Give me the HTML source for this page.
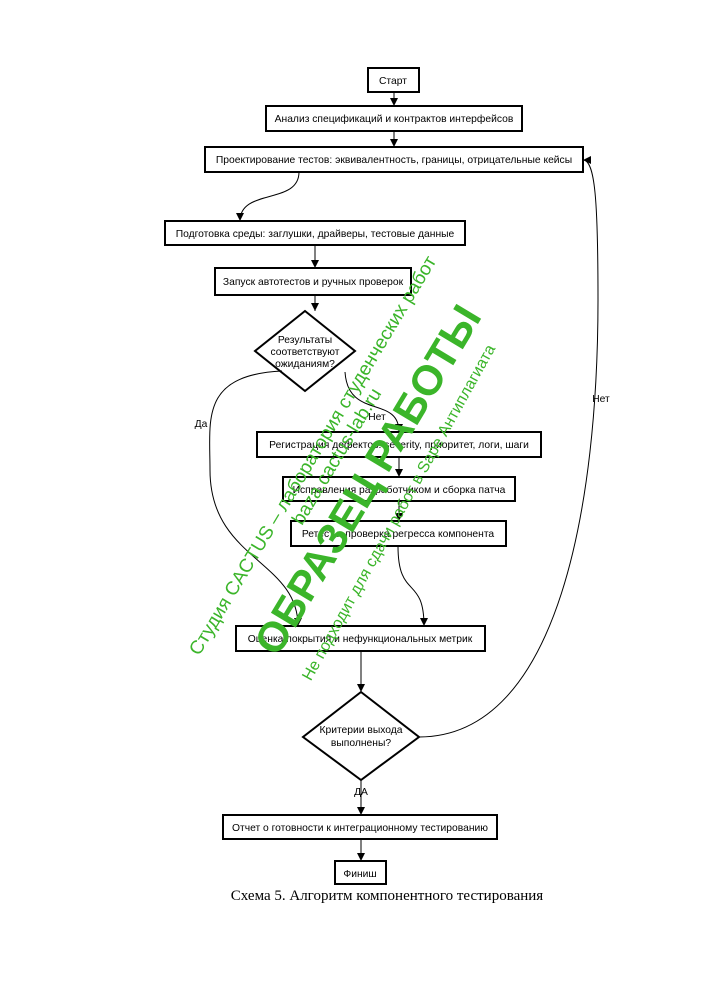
<!DOCTYPE html>
<html><head><meta charset="utf-8"><style>
html,body{margin:0;padding:0;background:#fff;}
svg{display:block;}
</style></head><body>
<svg width="707" height="1000" viewBox="0 0 707 1000" xmlns="http://www.w3.org/2000/svg">
<defs>
<marker id="a" viewBox="0 0 10 10" refX="10" refY="5" markerWidth="8" markerHeight="8" orient="auto" markerUnits="userSpaceOnUse">
<path d="M0,0 L10,5 L0,10 Z" fill="#000"/></marker>
</defs>
<g fill="#fff" stroke="#000" stroke-width="2">
<rect x="368" y="68" width="51" height="24"/>
<rect x="266" y="106" width="256" height="25"/>
<rect x="205" y="147" width="378" height="25"/>
<rect x="165" y="221" width="300" height="24"/>
<rect x="215" y="268" width="196" height="27"/>
<polygon points="305,311 355,351 305,391 255,351"/>
<rect x="257" y="432" width="284" height="25"/>
<rect x="283" y="477" width="232" height="24"/>
<rect x="291" y="521" width="215" height="25"/>
<rect x="236" y="626" width="249" height="25"/>
<polygon points="361,692 419,737 361,780 303,737"/>
<rect x="223" y="815" width="274" height="24"/>
<rect x="335" y="861" width="51" height="23"/>
</g>
<g fill="none" stroke="#000" stroke-width="1" marker-end="url(#a)">
<path d="M394,92 L394,106"/>
<path d="M394,131 L394,147"/>
<path d="M299,172 C299,205 240,188 240,221"/>
<path d="M315,245 L315,268"/>
<path d="M315,295 L315,311"/>
<path d="M345,372 C348,420 399,395 399,432"/>
<path d="M282,371 C200,375 210,420 210,470 C210,560 298,560 298,626"/>
<path d="M399,457 L399,477"/>
<path d="M399,501 L399,521"/>
<path d="M398,546 C398,600 424,575 424,626"/>
<path d="M361,651 L361,692"/>
<path d="M419,737 C560,737 598,500 598,300 C598,200 595,160 583,160"/>
<path d="M361,780 L361,815"/>
<path d="M361,839 L361,861"/>
</g>
<g font-family="Liberation Sans, sans-serif" font-size="10.3" fill="#000" text-anchor="middle">
<text x="393" y="84">Старт</text>
<text x="394" y="122">Анализ спецификаций и контрактов интерфейсов</text>
<text x="394" y="163">Проектирование тестов: эквивалентность, границы, отрицательные кейсы</text>
<text x="315" y="237">Подготовка среды: заглушки, драйверы, тестовые данные</text>
<text x="313" y="285">Запуск автотестов и ручных проверок</text>
<text x="305" y="343">Результаты</text>
<text x="305" y="355">соответствуют</text>
<text x="305" y="367">ожиданиям?</text>
<text x="377" y="420">Нет</text>
<text x="201" y="427">Да</text>
<text x="399" y="448">Регистрация дефектов: severity, приоритет, логи, шаги</text>
<text x="399" y="493">Исправления разработчиком и сборка патча</text>
<text x="398" y="537">Ретест и проверка регресса компонента</text>
<text x="360" y="642">Оценка покрытия и нефункциональных метрик</text>
<text x="361" y="733">Критерии выхода</text>
<text x="361" y="746">выполнены?</text>
<text x="361" y="795">ДА</text>
<text x="601" y="402">Нет</text>
<text x="360" y="831">Отчет о готовности к интеграционному тестированию</text>
<text x="360" y="877">Финиш</text>
</g>
<text x="387" y="900" font-family="Liberation Serif, serif" font-size="15" text-anchor="middle">Схема 5. Алгоритм компонентного тестирования</text>
<g fill="#3bb52a" font-family="Liberation Sans, sans-serif" text-anchor="middle">
<text x="312" y="462" font-size="19" transform="rotate(-59 312 455)">Студия CACTUS – лаборатория студенческих работ</text>
<text x="336" y="463" font-size="19" transform="rotate(-59 336 456)">baza.cactus-lab.ru</text>
<text x="368" y="494" font-size="42" font-weight="bold" transform="rotate(-59 368 480)">ОБРАЗЕЦ РАБОТЫ</text>
<text x="398" y="518" font-size="16" transform="rotate(-61 398 512)">Не подходит для сдачи работ в Sape Антиплагиата</text>
</g>
</svg>
</body></html>
